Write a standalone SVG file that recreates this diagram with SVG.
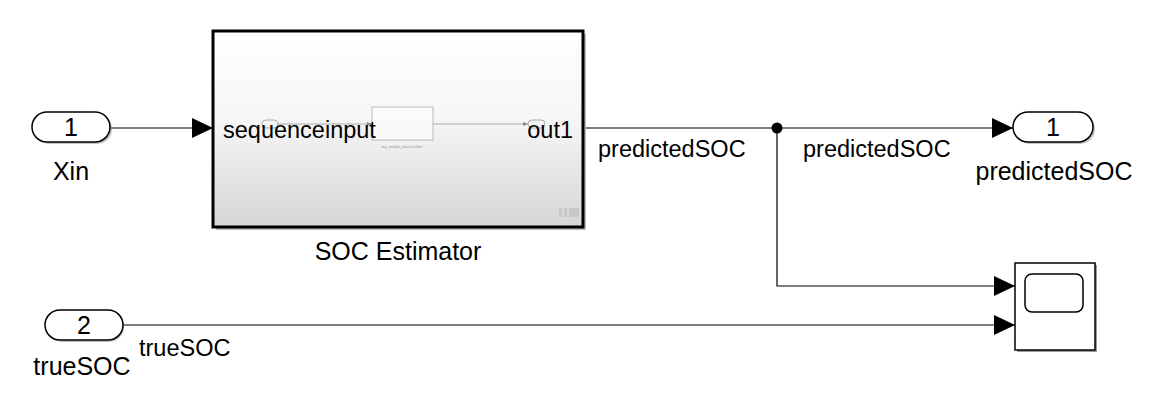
<svg xmlns="http://www.w3.org/2000/svg" width="1152" height="400" viewBox="0 0 1152 400">
<style>
text{font-family:"Liberation Sans",Arial,sans-serif;fill:#000}
.blk{font-size:25px}
.lbl{font-size:23.5px}
.port{fill:#fff;stroke:#000;stroke-width:1.5}
.shadow{fill:#9a9a9a;opacity:0.6}
.wire{fill:none;stroke:#000;stroke-width:1.2}
.tiny{fill:none;stroke:#999;stroke-width:0.8}
</style>
<defs>
<linearGradient id="g" x1="0" y1="0" x2="0" y2="1">
<stop offset="0" stop-color="#ffffff"/>
<stop offset="0.45" stop-color="#f6f6f6"/>
<stop offset="1" stop-color="#d6d6d6"/>
</linearGradient>
<marker id="arr" markerWidth="21" markerHeight="20" refX="21" refY="10" orient="auto" markerUnits="userSpaceOnUse">
<path d="M0,0 L21,10 L0,20 Z" fill="#000"/>
</marker>
<marker id="sarr" markerWidth="5" markerHeight="4" refX="5" refY="2" orient="auto" markerUnits="userSpaceOnUse">
<path d="M0,0 L5,2 L0,4 Z" fill="#888"/>
</marker>
</defs>

<g id="connectors">
<line class="wire" x1="110" y1="128" x2="213" y2="128" marker-end="url(#arr)"/>
<line class="wire" x1="583" y1="128" x2="1013" y2="128" marker-end="url(#arr)"/>
<polyline class="wire" points="777,128 777,286 1015,286" marker-end="url(#arr)"/>
<line class="wire" x1="123" y1="325" x2="1015" y2="325" marker-end="url(#arr)"/>
<circle cx="777" cy="128" r="5.5" fill="#000"/>
<text class="lbl" x="598" y="157">predictedSOC</text>
<text class="lbl" x="803" y="157">predictedSOC</text>
<text class="lbl" x="139" y="356">trueSOC</text>
</g>

<g id="in1">
<rect class="shadow" x="34" y="114" width="78" height="30" rx="15"/>
<rect class="port" x="32" y="112" width="78" height="30" rx="15"/>
<text class="blk" x="71" y="136" text-anchor="middle">1</text>
<text class="blk" x="71" y="180" text-anchor="middle">Xin</text>
</g>

<g id="in2">
<rect class="shadow" x="47" y="312" width="77" height="30" rx="15"/>
<rect class="port" x="45" y="310" width="78" height="30" rx="15"/>
<text class="blk" x="84" y="334" text-anchor="middle">2</text>
<text class="blk" x="82" y="375" text-anchor="middle">trueSOC</text>
</g>

<g id="soc_estimator">
<rect x="216" y="34" width="370" height="196" fill="#bdbdbd"/>
<rect x="213" y="31" width="370" height="196" fill="url(#g)" stroke="#000" stroke-width="3"/>
<rect x="262" y="120" width="16" height="8" rx="4" class="tiny"/>
<line x1="278" y1="124" x2="372" y2="124" class="tiny" marker-end="url(#sarr)"/>
<rect x="372" y="107" width="61" height="33" fill="#fff" fill-opacity="0.5" stroke="#aaa" stroke-width="0.8"/>
<line x1="433" y1="124" x2="528" y2="124" class="tiny" marker-end="url(#sarr)"/>
<rect x="528" y="120" width="17" height="8" rx="4" class="tiny"/>
<text x="402" y="148" text-anchor="middle" style="font-size:4px;fill:#999">my_model_placeholder</text>
<text class="lbl" x="223" y="138">sequenceinput</text>
<text class="lbl" x="573" y="138" text-anchor="end">out1</text>
<rect x="559" y="208" width="3" height="9" fill="#c8c8c8"/>
<rect x="564" y="208" width="3" height="9" fill="#c8c8c8"/>
<rect x="569" y="208" width="10" height="9" fill="#c8c8c8"/>
<text class="blk" x="398" y="260" text-anchor="middle">SOC Estimator</text>
</g>

<g id="out1">
<rect class="shadow" x="1015" y="114" width="80" height="30" rx="15"/>
<rect class="port" x="1013" y="112" width="80" height="30" rx="15"/>
<text class="blk" x="1053" y="136" text-anchor="middle">1</text>
<text class="blk" x="1054" y="180" text-anchor="middle">predictedSOC</text>
</g>

<g id="scope">
<rect x="1017" y="265" width="80" height="87" fill="#9a9a9a"/>
<rect x="1015" y="263" width="80" height="87" fill="#fff" stroke="#000" stroke-width="1.5"/>
<rect x="1025" y="274" width="58" height="38" rx="7" fill="#fff" stroke="#000" stroke-width="1.5"/>
</g>
</svg>
